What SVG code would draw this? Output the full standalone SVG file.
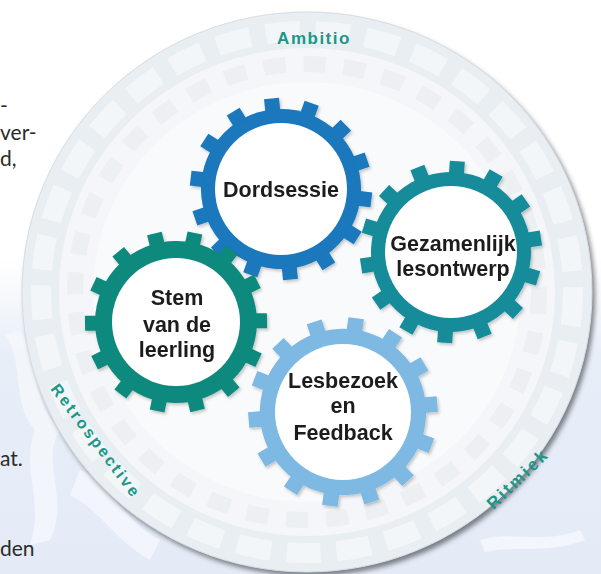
<svg xmlns="http://www.w3.org/2000/svg" width="601" height="574" viewBox="0 0 601 574">
<defs>
<style>
.side{font-family:Lato,"Open Sans",sans-serif;font-size:21px;fill:#2b2b2b}
.gt{font-family:"Liberation Sans",Arial,sans-serif;font-weight:bold;font-size:21.5px;fill:#1e1e1e;text-anchor:middle}
.lab{font-family:"Liberation Sans",Arial,sans-serif;font-weight:bold;fill:#1b9688;text-anchor:middle;dominant-baseline:central}
</style>
<linearGradient id="bg" x1="0" y1="0" x2="0" y2="1">
<stop offset="0" stop-color="#ffffff"/>
<stop offset="0.45" stop-color="#ffffff"/>
<stop offset="0.62" stop-color="#e8eef8"/>
<stop offset="1" stop-color="#e4ebf7"/>
</linearGradient>
<filter id="sh" x="-10%" y="-10%" width="125%" height="125%">
<feGaussianBlur stdDeviation="2.5"/>
</filter>
<filter id="gs" x="-20%" y="-20%" width="140%" height="140%">
<feDropShadow dx="1.5" dy="2" stdDeviation="1.5" flood-color="#000" flood-opacity="0.22"/>
</filter>
<filter id="soft"><feGaussianBlur stdDeviation="0.4"/></filter>
<g id="teeth14">
<rect x="-7.5" y="-91" width="15" height="14"/>
<rect x="-7.5" y="-91" width="15" height="14" transform="rotate(25.714)"/>
<rect x="-7.5" y="-91" width="15" height="14" transform="rotate(51.429)"/>
<rect x="-7.5" y="-91" width="15" height="14" transform="rotate(77.143)"/>
<rect x="-7.5" y="-91" width="15" height="14" transform="rotate(102.857)"/>
<rect x="-7.5" y="-91" width="15" height="14" transform="rotate(128.571)"/>
<rect x="-7.5" y="-91" width="15" height="14" transform="rotate(154.286)"/>
<rect x="-7.5" y="-91" width="15" height="14" transform="rotate(180)"/>
<rect x="-7.5" y="-91" width="15" height="14" transform="rotate(205.714)"/>
<rect x="-7.5" y="-91" width="15" height="14" transform="rotate(231.429)"/>
<rect x="-7.5" y="-91" width="15" height="14" transform="rotate(257.143)"/>
<rect x="-7.5" y="-91" width="15" height="14" transform="rotate(282.857)"/>
<rect x="-7.5" y="-91" width="15" height="14" transform="rotate(308.571)"/>
<rect x="-7.5" y="-91" width="15" height="14" transform="rotate(334.286)"/>
</g>
</defs>

<rect width="601" height="574" fill="url(#bg)"/>
<g id="background-splashes" fill="#f4f7fc" opacity="0.9">
<path d="M20 330 C40 360 30 400 60 430 C40 460 70 500 50 540 L30 545 C45 500 20 470 35 430 C10 400 25 360 5 335 Z"/>
<path d="M80 470 C110 480 120 520 160 540 L150 560 C115 540 100 510 70 495 Z"/>
<path d="M480 540 C510 530 540 545 580 530 L585 540 C545 555 510 545 485 552 Z"/>
</g>

<g id="side-text" class="side">
<text x="0" y="113">-</text>
<text x="0" y="140">ver-</text>
<text x="0" y="166">d,</text>
<text x="0" y="466">at.</text>
<text x="0" y="556">den</text>
</g>

<g id="cycle-disc">
<ellipse cx="310" cy="296" rx="285" ry="280" fill="#4a4f55" opacity="0.7" filter="url(#sh)"/>
<ellipse cx="307" cy="292" rx="285" ry="280" fill="#e9eef3" stroke="#d7dde2" stroke-width="1"/>
<ellipse cx="307" cy="292" rx="266" ry="261" fill="none" stroke="#f3f6f8" stroke-width="20" stroke-dasharray="34 16"/>
<ellipse cx="307" cy="292" rx="248" ry="244" fill="#f4f6f9"/>
<ellipse cx="307" cy="292" rx="232" ry="228" fill="none" stroke="#ecf0f3" stroke-width="16" stroke-dasharray="22 18"/>
<ellipse cx="307" cy="292" rx="214" ry="210" fill="#f9fafb"/>
</g>

<g id="ring-labels">
<text class="lab" x="314" y="38" font-size="17" letter-spacing="1.5">Ambitio</text>
<text class="lab" font-size="16" letter-spacing="2.5" transform="translate(96,441) rotate(53)">Retrospective</text>
<text class="lab" font-size="17" letter-spacing="2.5" transform="translate(518,479) rotate(-44)">Ritmiek</text>
</g>

<g id="connectors"></g>

<g id="gear-dordsessie" transform="translate(281,189)" filter="url(#gs)">
<g fill="#1a78bd" transform="rotate(-6)">
<circle r="80"/>
<use href="#teeth14"/>
</g>
<circle r="66" fill="#ffffff"/>
<text class="gt" x="0" y="8" filter="url(#soft)">Dordsessie</text>
</g>

<g id="gear-lesbezoek" transform="translate(343,412)" filter="url(#gs)">
<g fill="#7db9e2" transform="rotate(8) scale(1.04)">
<circle r="80"/>
<use href="#teeth14"/>
</g>
<circle r="68" fill="#ffffff"/>
<text class="gt" x="0" y="-24" filter="url(#soft)">Lesbezoek</text>
<text class="gt" x="0" y="1" filter="url(#soft)">en</text>
<text class="gt" x="0" y="28" filter="url(#soft)">Feedback</text>
</g>

<g id="gear-stem" transform="translate(176,322)" filter="url(#gs)">
<g fill="#0f8a7d" transform="rotate(12)">
<circle r="81"/>
<use href="#teeth14"/>
</g>
<circle r="64" fill="#ffffff"/>
<text class="gt" x="1" y="-17" filter="url(#soft)">Stem</text>
<text class="gt" x="1" y="10" filter="url(#soft)">van de</text>
<text class="gt" x="1" y="35" filter="url(#soft)">leerling</text>
</g>

<g id="gear-gezamenlijk" transform="translate(451,252)" filter="url(#gs)">
<g fill="#158c9b" transform="rotate(4)">
<circle r="80"/>
<use href="#teeth14"/>
</g>
<circle r="66" fill="#ffffff"/>
<text class="gt" x="2" y="-1" filter="url(#soft)">Gezamenlijk</text>
<text class="gt" x="2" y="24" filter="url(#soft)">lesontwerp</text>
</g>
</svg>
